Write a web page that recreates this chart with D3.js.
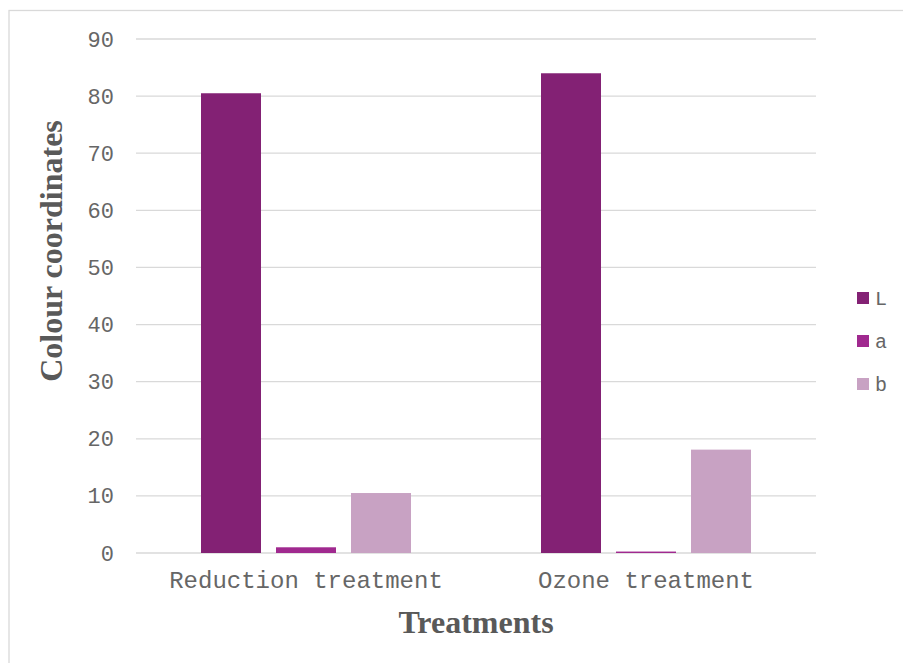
<!DOCTYPE html>
<html>
<head>
<meta charset="utf-8">
<script src="https://cdn.jsdelivr.net/npm/d3@7"></script>
<style>
  html, body { margin: 0; padding: 0; background: #fff; }
  svg { display: block; }
</style>
</head>
<body>
<div id="chart"></div>
<script>
const categories = ["Reduction treatment", "Ozone treatment"];
const seriesNames = ["L", "a", "b"];
const valuesL = [80.5, 84.0];
const valuesA = [1.0, 0.25];
const valuesB = [10.5, 18.1];
const yTicks = [0, 10, 20, 30, 40, 50, 60, 70, 80, 90];
const colors = ["#832174", "#A0298F", "#C8A2C3"];

const W = 903, H = 663;
const plot = { left: 136, right: 816, top: 39, bottom: 553 };
const monoFont = "'Liberation Mono', 'Courier New', monospace";
const serifFont = "'Liberation Serif', 'Times New Roman', serif";
const textGray = "#666666";

const svg = d3.select("#chart").append("svg").attr("width", W).attr("height", H);

// frame
svg.append("rect").attr("x", 9).attr("y", 10.5).attr("width", W + 10).attr("height", H + 10)
  .attr("fill", "none").attr("stroke", "#D9D9D9").attr("stroke-width", 1.3);

const x0 = d3.scaleBand().domain(categories).range([plot.left, plot.right]).padding(0);
const x1 = d3.scaleBand().domain(seriesNames).range([65, 275]).paddingInner(0.2).paddingOuter(0);
const y = d3.scaleLinear().domain([0, 90]).range([plot.bottom, plot.top]);

// gridlines
svg.append("g").selectAll("line").data(yTicks).join("line")
  .attr("x1", plot.left).attr("x2", plot.right)
  .attr("y1", d => y(d)).attr("y2", d => y(d))
  .attr("stroke", "#D9D9D9").attr("stroke-width", 1.3);

// y axis labels
const yAxis = d3.axisLeft(y).tickValues(yTicks).tickSize(0).tickPadding(22);
const gy = svg.append("g").attr("transform", `translate(${plot.left},0)`).call(yAxis);
gy.select(".domain").remove();
gy.selectAll("text").attr("font-family", monoFont)
  .attr("font-size", 22).attr("fill", textGray);

// bars
const allSeries = [valuesL, valuesA, valuesB];
const rows = [];
categories.forEach((c, i) => seriesNames.forEach((s, j) => rows.push({ c, s, v: allSeries[j][i], j })));
svg.append("g").selectAll("rect").data(rows).join("rect")
  .attr("x", d => x0(d.c) + x1(d.s))
  .attr("width", x1.bandwidth())
  .attr("y", d => y(d.v))
  .attr("height", d => y(0) - y(d.v))
  .attr("fill", d => colors[d.j]);

// x axis labels
const xAxis = d3.axisBottom(x0).tickSize(0).tickPadding(18);
const gx = svg.append("g").attr("transform", `translate(0,${plot.bottom})`).call(xAxis);
gx.select(".domain").remove();
gx.selectAll("text").attr("font-family", monoFont)
  .attr("font-size", 24).attr("fill", textGray);

// axis titles
svg.append("text").attr("transform", "translate(62,251) rotate(-90)")
  .attr("text-anchor", "middle")
  .attr("font-family", serifFont)
  .attr("font-weight", "bold").attr("font-size", 32).attr("fill", "#595959")
  .text("Colour coordinates");
svg.append("text").attr("x", 476).attr("y", 633)
  .attr("text-anchor", "middle")
  .attr("font-family", serifFont)
  .attr("font-weight", "bold").attr("font-size", 32).attr("fill", "#595959")
  .text("Treatments");

// legend
const legendY = d3.scalePoint().domain(seriesNames).range([298, 384]);
const lg = svg.append("g").selectAll("g").data(seriesNames).join("g")
  .attr("transform", d => `translate(857,${legendY(d)})`);
lg.append("rect").attr("x", 0).attr("y", -6).attr("width", 12).attr("height", 12)
  .attr("fill", (d, i) => colors[i]);
lg.append("text").attr("x", 18).attr("y", 7)
  .attr("font-family", monoFont)
  .attr("font-size", 20).attr("fill", textGray).text(d => d);
</script>
</body>
</html>
